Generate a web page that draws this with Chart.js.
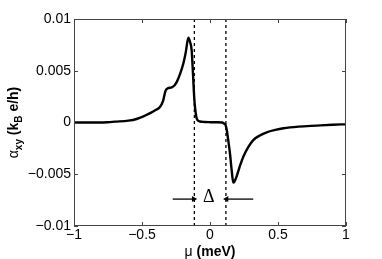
<!DOCTYPE html>
<html>
<head>
<meta charset="utf-8">
<script src="https://cdn.jsdelivr.net/npm/chart.js@4.4.1/dist/chart.umd.min.js"></script>
<style>
    html, body { margin: 0; padding: 0; background: #fff; }
    #wrap { width: 382px; height: 259px; position: relative; }
</style>
</head>
<body>
<div id="wrap"><canvas id="alphaChart"></canvas></div>
<script>
// chemical potential mu (meV) and alpha_xy (k_B e/h)
const muValues = [-1, -0.9, -0.8, -0.75, -0.7, -0.6, -0.54, -0.48, -0.44, -0.4, -0.368, -0.345, -0.326, -0.31, -0.282,
    -0.26, -0.245, -0.22, -0.196, -0.178, -0.159, -0.147, -0.135, -0.125, -0.115, -0.105, -0.098, -0.085, -0.074,
    -0.04, 0, 0.05, 0.09, 0.103, 0.113, 0.123, 0.135, 0.147, 0.16, 0.171, 0.18, 0.196, 0.22, 0.245, 0.28, 0.318,
    0.36, 0.417, 0.48, 0.54, 0.65, 0.785, 0.9, 1];
const alphaValues = [0, 0, 0, 0.00003, 0.00008, 0.00018, 0.00034, 0.00065, 0.0009, 0.0012, 0.0015, 0.0021, 0.0031,
    0.0033, 0.0034, 0.0036, 0.0039, 0.0047, 0.0057, 0.0068, 0.0082, 0.0078, 0.007, 0.0047, 0.0022, 0.0009, 0.0004,
    0.00015, 0.0001, 0.00005, 0.00003, 0.00002, 0, -0.0001, -0.0002, -0.0007, -0.0018, -0.003, -0.0047, -0.0058,
    -0.0057, -0.0052, -0.0042, -0.0033, -0.0024, -0.0017, -0.0013, -0.00095, -0.00072, -0.00056, -0.0004, -0.0003,
    -0.00022, -0.00017];

// gap edges (dashed lines) and the Delta arrows
const gapEdges = [-0.115, 0.117];
const yRange = [-0.01, 0.01];
const leftArrowX = [-0.274, -0.12];
const rightArrowX = [0.318, 0.122];
const arrowY = -0.0074;

const xTicks = [-1, -0.5, 0, 0.5, 1];
const yTicks = [-0.01, -0.005, 0, 0.005, 0.01];

const fmt = v => String(v).replace('-', '\u2212');

// Matlab style box with inward ticks and the axis titles
const framePlugin = {
    id: 'frame',
    afterDraw(chart) {
        const { ctx, chartArea: a, scales } = chart;
        ctx.save();
        ctx.strokeStyle = '#444';
        ctx.lineWidth = 1;
        ctx.strokeRect(a.left + 0.5, a.top + 0.5, a.right - a.left - 1, a.bottom - a.top - 1);
        ctx.beginPath();
        xTicks.forEach(v => {
            const x = Math.round(scales.x.getPixelForValue(v)) + 0.5;
            ctx.moveTo(x, a.bottom); ctx.lineTo(x, a.bottom - 4);
            ctx.moveTo(x, a.top); ctx.lineTo(x, a.top + 4);
        });
        yTicks.forEach(v => {
            const y = Math.round(scales.y.getPixelForValue(v)) + 0.5;
            ctx.moveTo(a.left, y); ctx.lineTo(a.left + 4, y);
            ctx.moveTo(a.right, y); ctx.lineTo(a.right - 4, y);
        });
        ctx.stroke();

        // Delta label
        ctx.fillStyle = '#000';
        ctx.font = '18px "Liberation Serif"';
        ctx.textAlign = 'center';
        ctx.textBaseline = 'middle';
        ctx.fillText('\u0394', scales.x.getPixelForValue(-0.008), scales.y.getPixelForValue(-0.0072));

        // x title
        const big = 'bold 14px "Liberation Sans"';
        const bigReg = '14px "Liberation Sans"';
        const small = 'bold 10px "Liberation Sans"';
        ctx.textBaseline = 'alphabetic';
        ctx.textAlign = 'left';
        const xParts = [['\u03bc ', bigReg, 0], ['(meV)', big, 0]];
        drawParts(ctx, xParts, (a.left + a.right) / 2, 256);

        // y title, rotated
        ctx.translate(18, (a.top + a.bottom) / 2);
        ctx.rotate(-Math.PI / 2);
        const yParts = [['\u03b1', bigReg, 0], ['xy', small, 4], [' (k', big, 0], ['B', small, 4], [' e/h)', big, 0]];
        drawParts(ctx, yParts, 0, 0);
        ctx.restore();
    }
};

function drawParts(ctx, parts, cx, baseY) {
    let total = 0;
    parts.forEach(p => { ctx.font = p[1]; total += ctx.measureText(p[0]).width; });
    let x = cx - total / 2;
    parts.forEach(p => {
        ctx.font = p[1];
        ctx.fillText(p[0], x, baseY + p[2]);
        x += ctx.measureText(p[0]).width;
    });
}

const dashed = x => ({
    data: [{ x: x, y: yRange[0] }, { x: x, y: yRange[1] }],
    borderColor: '#000', borderWidth: 1.3, borderDash: [3, 3], pointRadius: 0
});
const arrow = (xs, rot) => ({
    data: xs.map(x => ({ x: x, y: arrowY })),
    borderColor: '#000', backgroundColor: '#000', borderWidth: 1.3,
    pointStyle: 'triangle', pointRadius: [0, 3.5], pointRotation: rot, pointBorderWidth: 0
});

const ctx = document.getElementById('alphaChart').getContext('2d');
new Chart(ctx, {
    type: 'line',
    data: {
        datasets: [
            {
                data: muValues.map((m, i) => ({ x: m, y: alphaValues[i] })),
                borderColor: '#000', borderWidth: 2.4, pointRadius: 0,
                cubicInterpolationMode: 'monotone'
            },
            dashed(gapEdges[0]),
            dashed(gapEdges[1]),
            arrow(leftArrowX, 90),
            arrow(rightArrowX, -90)
        ]
    },
    options: {
        responsive: true,
        maintainAspectRatio: false,
        animation: false,
        layout: { padding: { left: 0, right: 36, top: 19, bottom: 0 } },
        plugins: { legend: { display: false }, tooltip: { enabled: false } },
        scales: {
            x: {
                type: 'linear', min: -1, max: 1,
                afterBuildTicks: s => { s.ticks = xTicks.map(v => ({ value: v })); },
                afterFit: s => { s.height = 33; },
                grid: { display: false, drawTicks: false },
                border: { display: false },
                ticks: { color: '#000', padding: 1, font: { family: 'Liberation Sans', size: 14 }, callback: fmt, maxRotation: 0 }
            },
            y: {
                type: 'linear', min: -0.01, max: 0.01,
                afterBuildTicks: s => { s.ticks = yTicks.map(v => ({ value: v })); },
                afterFit: s => { s.width = 74; },
                grid: { display: false, drawTicks: false },
                border: { display: false },
                ticks: { color: '#000', padding: 3, font: { family: 'Liberation Sans', size: 14 }, callback: fmt }
            }
        }
    },
    plugins: [framePlugin]
});
</script>
</body>
</html>
